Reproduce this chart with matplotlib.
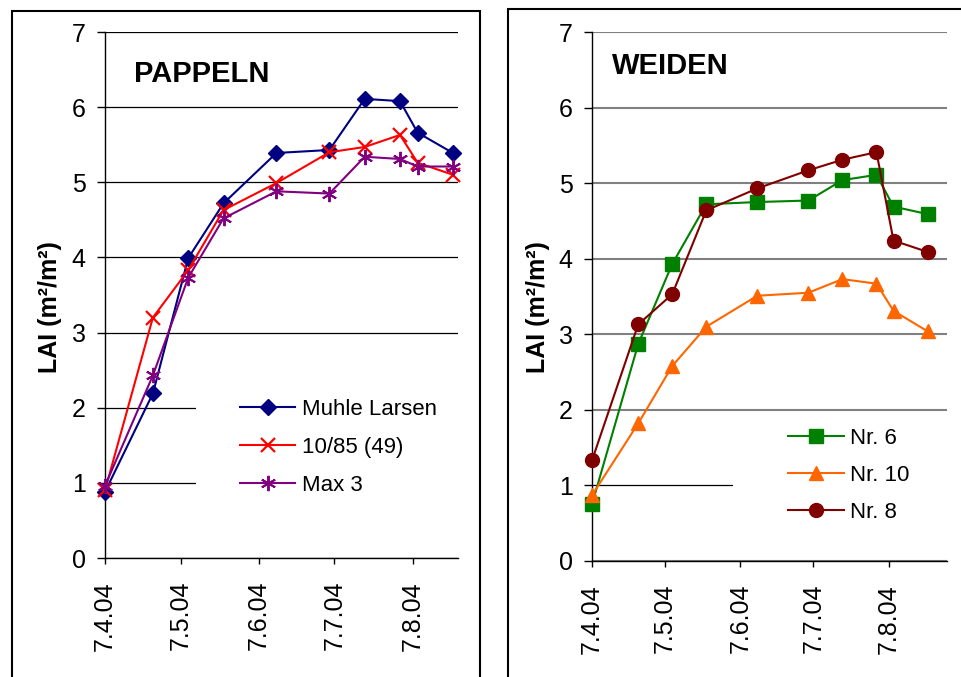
import numpy as np
import matplotlib
matplotlib.use("Agg")
import matplotlib.pyplot as plt
from matplotlib.patches import Rectangle

plt.rcParams.update({
    "font.family": ["Liberation Sans", "DejaVu Sans"],
})

# sampling dates (same for both panels)
dates = np.array(["2004-04-07", "2004-04-26", "2004-05-10", "2004-05-24", "2004-06-14",
                  "2004-07-05", "2004-07-19", "2004-08-02", "2004-08-09", "2004-08-23"],
                 dtype="datetime64[D]")
tick_dates = np.array(["2004-04-07", "2004-05-07", "2004-06-07", "2004-07-07", "2004-08-07"],
                      dtype="datetime64[D]")
tick_labels = ["7.4.04", "7.5.04", "7.6.04", "7.7.04", "7.8.04"]
y_ticks = [0, 1, 2, 3, 4, 5, 6, 7]

# PAPPELN
muhle_larsen = [0.88, 2.19, 3.99, 4.72, 5.39, 5.43, 6.11, 6.08, 5.66, 5.39]
klon_10_85 = [0.90, 3.20, 3.83, 4.63, 4.99, 5.40, 5.47, 5.63, 5.26, 5.10]
max_3 = [0.96, 2.43, 3.73, 4.52, 4.88, 4.85, 5.34, 5.31, 5.21, 5.21]

# WEIDEN
nr_6 = [0.75, 2.87, 3.93, 4.72, 4.75, 4.77, 5.04, 5.11, 4.69, 4.59]
nr_10 = [0.87, 1.82, 2.58, 3.10, 3.51, 3.55, 3.73, 3.67, 3.31, 3.04]
nr_8 = [1.33, 3.13, 3.53, 4.64, 4.93, 5.17, 5.31, 5.41, 4.24, 4.09]

fig = plt.figure(figsize=(9.61, 6.77), dpi=100)
fig.patch.set_facecolor("white")

# panel frames
fig.add_artist(Rectangle((12 / 961, -0.05), (480 - 12) / 961, 1.05 - 11 / 677,
                         transform=fig.transFigure, fill=False, lw=1.5, ec="black"))
fig.add_artist(Rectangle((508 / 961, -0.05), 0.6, 1.05 - 9 / 677,
                         transform=fig.transFigure, fill=False, lw=1.5, ec="black"))

ax1 = fig.add_axes([105 / 961, (677 - 558) / 677, 353 / 961, 526 / 677])
ax2 = fig.add_axes([592 / 961, (677 - 561) / 677, 355 / 961, 529 / 677])


def style_axes(ax, xmax, grid_color, grid_lw):
    ax.set_ylim(0, 7)
    ax.set_xlim(np.datetime64("2004-04-07"), np.datetime64(xmax))
    ax.set_yticks(y_ticks)
    ax.set_xticks(tick_dates)
    ax.set_xticklabels(tick_labels, rotation=90)
    ax.tick_params(axis="y", direction="out", length=6, width=1, pad=8, labelsize=18)
    ax.tick_params(axis="x", direction="out", length=4.5, width=1, pad=12, labelsize=18)
    for s in ["top", "right"]:
        ax.spines[s].set_visible(False)
    for s in ["left", "bottom"]:
        ax.spines[s].set_linewidth(1)
        ax.spines[s].set_color("black")
    ax.set_axisbelow(True)
    ax.grid(axis="y", color=grid_color, lw=grid_lw)
    ax.grid(axis="x", visible=False)
    ax.set_ylabel("LAI (m²/m²)", fontsize=18, fontweight="bold")


# ---- left: PAPPELN
style_axes(ax1, "2004-08-25", "black", 0.9)
ax1.yaxis.set_label_coords(-0.122, 0.477)
ax1.plot(dates, muhle_larsen, color="#000080", lw=1.5, marker="D", ms=8,
         mfc="#000080", mec="#000080", label="Muhle Larsen", clip_on=False, zorder=3)
ax1.plot(dates, klon_10_85, color="#FF0000", lw=1.5, marker="x", ms=10, mew=1.6,
         label="10/85 (49)", clip_on=False, zorder=3)
ax1.plot(dates, max_3, color="#800080", lw=1.5, marker=(6, 2, 0), ms=11, mew=1.4,
         label="Max 3", clip_on=False, zorder=3)
ax1.add_patch(Rectangle((0.258, 0.6 / 7), 0.742, 1.8 / 7, transform=ax1.transAxes,
                        fc="white", ec="none", zorder=1))
ax1.text(0.082, 0.921, "PAPPELN", transform=ax1.transAxes, fontsize=21,
         fontweight="bold", ha="left", va="center")
ax1.legend(loc="center left", bbox_to_anchor=(0.382, 1.47 / 7), frameon=False,
           fontsize=16, handlelength=2.5, handletextpad=0.3, labelspacing=0.76,
           borderpad=0, borderaxespad=0)

# ---- right: WEIDEN
style_axes(ax2, "2004-08-31", "#808080", 1.5)
ax2.get_ygridlines()[1].set_color("black")
ax2.get_ygridlines()[1].set_linewidth(0.9)
ax2.yaxis.set_label_coords(-0.118, 0.48)
ax2.plot(dates, nr_6, color="#008000", lw=1.5, marker="s", ms=10,
         mfc="#008000", mec="#008000", label="Nr. 6", clip_on=False, zorder=3)
ax2.plot(dates, nr_10, color="#FF6600", lw=1.5, marker="^", ms=10,
         mfc="#FF6600", mec="#FF6600", label="Nr. 10", clip_on=False, zorder=3)
ax2.plot(dates, nr_8, color="#800000", lw=1.5, marker="o", ms=10,
         mfc="#800000", mec="#800000", label="Nr. 8", clip_on=False, zorder=3)
ax2.add_patch(Rectangle((0.397, 0.3 / 7), 0.603, 1.5 / 7, transform=ax2.transAxes,
                        fc="white", ec="none", zorder=1))
ax2.text(0.056, 0.935, "WEIDEN", transform=ax2.transAxes, fontsize=21,
         fontweight="bold", ha="left", va="center")
ax2.legend(loc="center left", bbox_to_anchor=(0.552, 1.13 / 7), frameon=False,
           fontsize=16, handlelength=2.5, handletextpad=0.3, labelspacing=0.72,
           borderpad=0, borderaxespad=0)

fig.savefig("out.png", dpi=100, facecolor="white")
